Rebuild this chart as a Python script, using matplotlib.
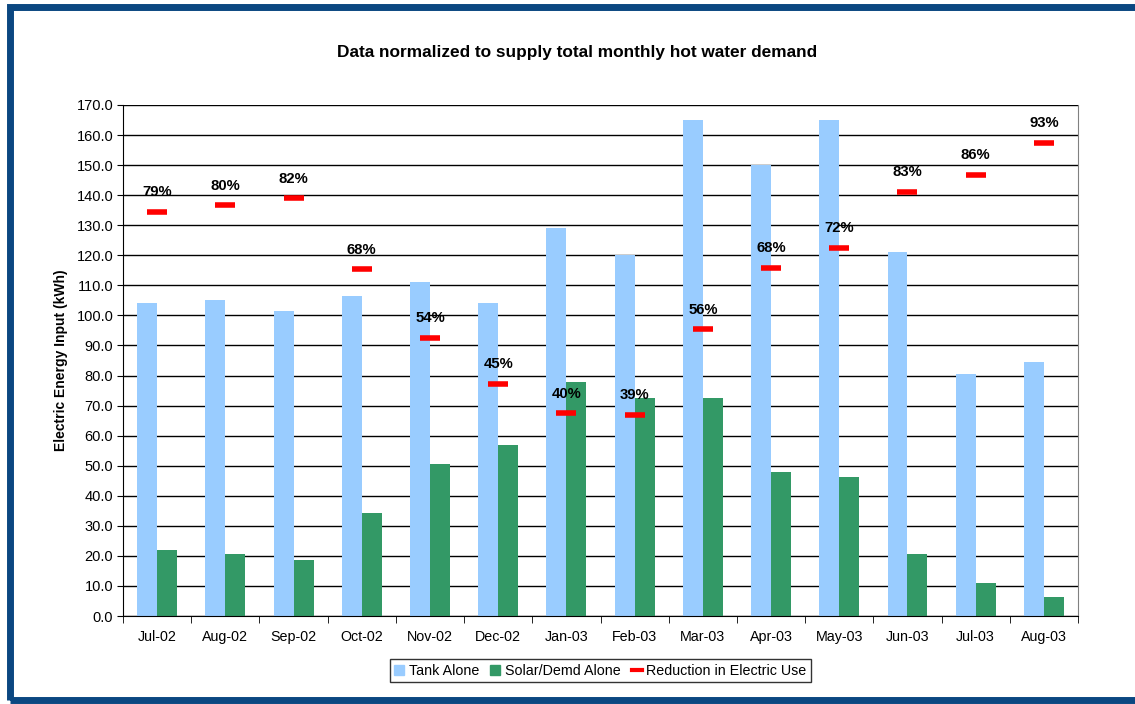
import numpy as np
import matplotlib.pyplot as plt
from matplotlib.patches import Rectangle
from matplotlib.lines import Line2D

plt.rcParams['font.family'] = ['Liberation Sans', 'DejaVu Sans']

months = ["Jul-02", "Aug-02", "Sep-02", "Oct-02", "Nov-02", "Dec-02", "Jan-03",
          "Feb-03", "Mar-03", "Apr-03", "May-03", "Jun-03", "Jul-03", "Aug-03"]
tank_alone = [104.0, 105.0, 101.5, 106.5, 111.0, 104.0, 129.0,
              120.0, 165.0, 150.0, 165.0, 121.0, 80.5, 84.5]
solar_demd = [22.0, 20.5, 18.7, 34.3, 50.5, 57.0, 78.0,
              72.5, 72.5, 48.0, 46.3, 20.7, 11.0, 6.3]
reduction_pct = [79.1, 80.4, 81.7, 67.9, 54.4, 45.4, 39.7,
                 39.4, 56.1, 68.1, 72.1, 83.0, 86.3, 92.6]

blue = "#99ccff"
green = "#339966"

fig = plt.figure(figsize=(11.35, 7.04), dpi=100)
fig.patches.append(Rectangle((10 / 1135, 4 / 704), 1.1, 693 / 704, transform=fig.transFigure,
                             fill=False, edgecolor="#0b4781", linewidth=5, zorder=10))

ax = fig.add_axes([0.1084, 0.125, 0.8414, 0.7259])
x = np.arange(len(months))
w = 0.293
ax.bar(x - w / 2, tank_alone, w, color=blue, label="Tank Alone", zorder=2)
ax.bar(x + w / 2, solar_demd, w, color=green, label="Solar/Demd Alone", zorder=2)

ax.set_xlim(-0.5, len(months) - 0.5)
ax.set_ylim(0, 170)
ax.set_yticks(np.arange(0, 171, 10))
ax.set_yticklabels([f"{v:.1f}" for v in np.arange(0, 171, 10)], fontsize=10.5)
ax.yaxis.grid(True, color="black", linewidth=1, zorder=0)
ax.set_axisbelow(True)
ax.set_xticks(x)
ax.set_xticklabels(months, fontsize=10.3)
ax.tick_params(axis="x", length=0, pad=10)
ax.set_xticks(np.arange(-0.5, len(months), 1), minor=True)
ax.tick_params(axis="x", which="minor", length=5, direction="out", color="black")
ax.tick_params(axis="y", length=4, direction="out", pad=3)
ax.spines["top"].set_visible(False)
ax.spines["right"].set_color("#808080")
ax.set_ylabel("Electric Energy Input (kWh)", fontsize=10, fontweight="bold", labelpad=6)

ax2 = ax.twinx()
ax2.set_ylim(0, 100)
ax2.axis("off")
ax2.plot(x, reduction_pct, linestyle="none", marker="_", markersize=15,
         markeredgewidth=4, color="#ff0000", zorder=5)
for xi, p in zip(x, reduction_pct):
    ax2.annotate(f"{round(p)}%", (xi, p), xytext=(0, 9), textcoords="offset points",
                 ha="center", va="bottom", fontsize=10.7, fontweight="bold")

fig.text(0.508, 0.925, "Data normalized to supply total monthly hot water demand",
         ha="center", va="center", fontsize=12.4, fontweight="bold")

handles = [Rectangle((0, 0), 1, 1, color=blue), Rectangle((0, 0), 1, 1, color=green),
           Line2D([], [], color="#ff0000", linewidth=3)]
leg = fig.legend(handles, ["Tank Alone", "Solar/Demd Alone", "Reduction in Electric Use"],
                 loc="center", bbox_to_anchor=(0.529, 0.0475), ncol=3, fontsize=10.3,
                 frameon=True, fancybox=False, edgecolor="black", handlelength=0.7,
                 handleheight=0.7, handletextpad=0.3, columnspacing=0.8, borderpad=0.3)
leg.get_frame().set_linewidth(1)

fig.savefig("out.png", dpi=100)
